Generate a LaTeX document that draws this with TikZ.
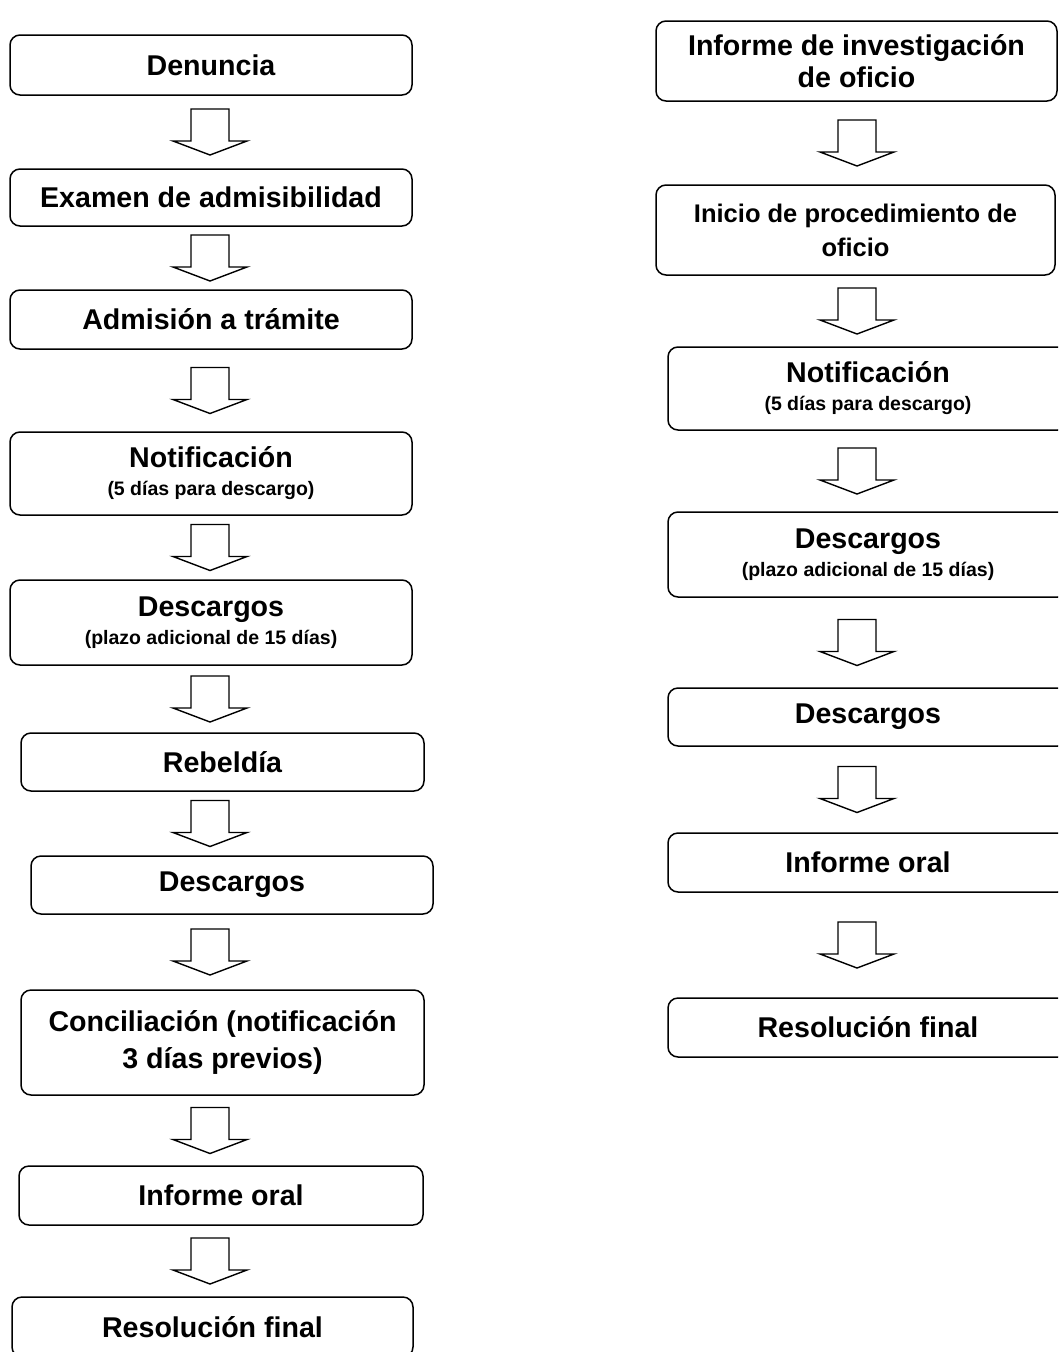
\documentclass[tikz,border=0pt]{standalone}
\usepackage{fontspec}
\setmainfont{Liberation Sans}
\usetikzlibrary{calc}
\tikzset{
  box/.style={draw, line width=1.5pt, rounded corners=10pt, minimum width=402pt,
    inner sep=0pt, align=center, font=\bfseries\fontsize{28.6}{34}\selectfont},
  blockarr/.style={draw, line width=1.4pt, fill=white, line join=miter},
}
\newcommand{\subt}[1]{{\fontsize{19.5}{24}\selectfont #1}}
\newcommand{\blockarrow}[3]{%
  \draw[blockarr] let \p1=(#1.south), \p2=(#2.north), \n1={0.5*(\y1+\y2)} in
    ({#3pt-19pt},{\n1+23pt}) -- ({#3pt+19pt},{\n1+23pt}) -- ({#3pt+19pt},{\n1-9pt})
    -- ({#3pt+37pt},{\n1-9pt}) -- ({#3pt},{\n1-23pt}) -- ({#3pt-37pt},{\n1-9pt})
    -- ({#3pt-19pt},{\n1-9pt}) -- cycle;}
\begin{document}
\begin{tikzpicture}[x=1pt,y=-1pt]
\useasboundingbox (0,0) rectangle (1058,1352);
\clip (0,0) rectangle (1058,1352);
% left column
\node[box, minimum height=60pt] (L1) at (211,65) {Denuncia};
\node[box, minimum height=57pt] (L2) at (211,197.5) {Examen de admisibilidad};
\node[box, minimum height=59pt] (L3) at (211,319.5) {Admisión a trámite};
\node[box, minimum height=83pt] (L4) at (211,473.5) {Notificación\\[-6pt]\subt{(5 días para descargo)}};
\node[box, minimum height=85pt] (L5) at (211,622.5) {Descargos\\[-6pt]\subt{(plazo adicional de 15 días)}};
\node[box, minimum height=58pt, minimum width=403pt] (L6) at (222.5,762) {Rebeldía};
\node[box, minimum height=58pt] (L7) at (232,885) {Descargos};
\node[box, minimum height=105pt, minimum width=403pt] (L8) at (222.5,1042.5) {Conciliación (notificación\\[3pt]3 días previos)};
\node[box, minimum height=59pt, minimum width=404pt] (L9) at (221,1195.5) {Informe oral};
\node[box, minimum height=60pt, minimum width=401pt] (L10) at (212.5,1327) {Resolución final};
\blockarrow{L1}{L2}{210}
\blockarrow{L2}{L3}{210}
\blockarrow{L3}{L4}{210}
\blockarrow{L4}{L5}{210}
\blockarrow{L5}{L6}{210}
\blockarrow{L6}{L7}{210}
\blockarrow{L7}{L8}{210}
\blockarrow{L8}{L9}{210}
\blockarrow{L9}{L10}{210}
% right column
\node[box, minimum height=80pt, minimum width=401pt] (R1) at (856.5,61) {Informe de investigación\\[-2pt]de oficio};
\node[box, minimum height=90pt, minimum width=399pt, font=\bfseries\fontsize{25.5}{30}\selectfont] (R2) at (855.5,230) {Inicio de procedimiento de\\[4pt]oficio};
\node[box, minimum height=83pt, minimum width=400pt] (R3) at (868,388.5) {Notificación\\[-6pt]\subt{(5 días para descargo)}};
\node[box, minimum height=85pt, minimum width=400pt] (R4) at (868,554.5) {Descargos\\[-6pt]\subt{(plazo adicional de 15 días)}};
\node[box, minimum height=58pt, minimum width=400pt] (R5) at (868,717) {Descargos};
\node[box, minimum height=59pt, minimum width=400pt] (R6) at (868,862.5) {Informe oral};
\node[box, minimum height=59pt, minimum width=400pt] (R7) at (868,1027.5) {Resolución final};
\blockarrow{R1}{R2}{857}
\blockarrow{R2}{R3}{857}
\blockarrow{R3}{R4}{857}
\blockarrow{R4}{R5}{857}
\blockarrow{R5}{R6}{857}
\blockarrow{R6}{R7}{857}
\end{tikzpicture}
\end{document}
